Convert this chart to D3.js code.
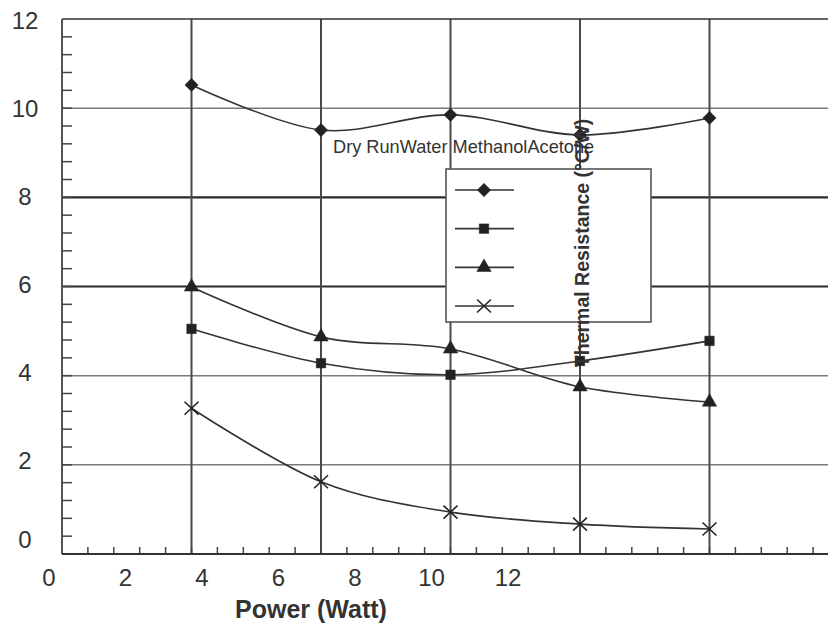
<!DOCTYPE html>
<html>
<head>
<meta charset="utf-8">
<script src="https://cdn.jsdelivr.net/npm/d3@7"></script>
<style>
  html, body { margin: 0; padding: 0; background: #fff; }
  svg { display: block; font-family: "Liberation Sans", Arial, sans-serif; }
</style>
</head>
<body>
<svg id="chart" width="828" height="625"></svg>
<script>
// Heating power (W) at each test point
const powers = [3.5, 7, 10.5, 14, 17.5];

// Thermal resistance (°C/W) per working fluid
const dryRun   = [10.52, 9.51, 9.85, 9.40, 9.78];
const water    = [5.05, 4.28, 4.02, 4.33, 4.78];
const methanol = [5.99, 4.87, 4.60, 3.75, 3.41];
const acetone  = [3.27, 1.62, 0.94, 0.67, 0.56];

const seriesNames = ["Dry Run", "Water ", "Methanol", "Acetone"];

// Axis tick labels
const xTickLabels = [0, 2, 4, 6, 8, 10, 12];
const yTickLabels = [0, 2, 4, 6, 8, 10, 12];

const xTitle = "Power (Watt)";
const yTitle = "Thermal Resistance (°C/W)";

(function () {
  const series = [
    { name: seriesNames[0], values: dryRun,   marker: "diamond" },
    { name: seriesNames[1], values: water,    marker: "square" },
    { name: seriesNames[2], values: methanol, marker: "triangle" },
    { name: seriesNames[3], values: acetone,  marker: "cross" }
  ];

  const svg = d3.select("#chart");
  const W = 828;
  const plotLeft = 62, plotTop = 19, plotBottom = 554;

  // Plot frame scales
  const x = d3.scaleLinear().domain([0, 21]).range([plotLeft, 839]);
  const y = d3.scaleLinear().domain([0, 12]).range([plotBottom, plotTop]);

  // Tick label placement scales
  const xLab = d3.scaleLinear().domain([0, 12]).range([49, 508]);
  const yLab = d3.scaleLinear().domain([0, 2, 12]).range([539, 460, 20]);

  const ink = "#333";

  // Horizontal gridlines
  const gridY = d3.range(2, 12, 2);
  const heavy = d => d === 6 || d === 8;
  svg.append("g").selectAll("line").data(gridY).join("line")
    .attr("x1", plotLeft).attr("x2", W)
    .attr("y1", d => y(d)).attr("y2", d => y(d))
    .attr("stroke", d => heavy(d) ? "#2a2a2a" : "#7a7a7a")
    .attr("stroke-width", d => heavy(d) ? 2.2 : 1.5);

  // Vertical gridlines through each power level
  svg.append("g").selectAll("line").data(powers).join("line")
    .attr("x1", d => x(d)).attr("x2", d => x(d))
    .attr("y1", plotTop).attr("y2", plotBottom)
    .attr("stroke", "#4a4a4a").attr("stroke-width", 2);

  // Top border
  svg.append("line").attr("x1", plotLeft).attr("x2", W)
    .attr("y1", plotTop).attr("y2", plotTop)
    .attr("stroke", ink).attr("stroke-width", 1.6);

  // Y axis line and inward minor ticks
  svg.append("line").attr("x1", plotLeft).attr("x2", plotLeft)
    .attr("y1", plotTop).attr("y2", plotBottom)
    .attr("stroke", "#555").attr("stroke-width", 2);
  svg.append("g").selectAll("line").data(d3.range(1, 30).map(i => i * 0.4)).join("line")
    .attr("x1", plotLeft).attr("x2", plotLeft + 10)
    .attr("y1", d => y(d)).attr("y2", d => y(d))
    .attr("stroke", "#444").attr("stroke-width", 1.5);

  // X axis line and upward minor ticks
  svg.append("g").selectAll("line").data(d3.range(1, 30).map(i => i * 0.7)).join("line")
    .attr("x1", d => x(d)).attr("x2", d => x(d))
    .attr("y1", plotBottom).attr("y2", plotBottom - 7)
    .attr("stroke", "#444").attr("stroke-width", 1.5);
  svg.append("line").attr("x1", plotLeft).attr("x2", W)
    .attr("y1", plotBottom).attr("y2", plotBottom)
    .attr("stroke", ink).attr("stroke-width", 2);

  // Tick labels
  svg.append("g").selectAll("text").data(xTickLabels).join("text")
    .attr("x", d => xLab(d)).attr("y", 586)
    .attr("text-anchor", "middle")
    .attr("font-size", 24).attr("fill", ink)
    .text(d => d);
  svg.append("g").selectAll("text").data(yTickLabels).join("text")
    .attr("x", 25).attr("y", d => yLab(d)).attr("dy", "0.36em")
    .attr("text-anchor", "middle")
    .attr("font-size", 24).attr("fill", ink)
    .text(d => d);

  // Marker shapes
  const markerPath = {
    diamond: d3.symbol(d3.symbolSquare, 88)(),
    square: d3.symbol(d3.symbolSquare, 90)(),
    triangle: d3.symbol(d3.symbolTriangle, 90)(),
    cross: "M-7,-6.5L7,6.5M-7,6.5L7,-6.5"
  };
  function drawMarker(sel, kind) {
    sel.append("path")
      .attr("d", markerPath[kind])
      .attr("transform", kind === "diamond" ? "rotate(45)" : null)
      .attr("fill", kind === "cross" ? "none" : "#222")
      .attr("stroke", "#222")
      .attr("stroke-width", kind === "cross" ? 1.6 : 0.5);
  }

  // Smoothed series lines
  const line = d3.line()
    .x((d, i) => x(powers[i]))
    .y(d => y(d))
    .curve(d3.curveCardinal.tension(0));

  const plot = svg.append("g");
  series.forEach(s => {
    plot.append("path")
      .attr("d", line(s.values))
      .attr("fill", "none")
      .attr("stroke", ink)
      .attr("stroke-width", 1.6);
    s.values.forEach((v, i) => {
      const g = plot.append("g").attr("transform", `translate(${x(powers[i])},${y(v)})`);
      drawMarker(g, s.marker);
    });
  });

  // Legend box
  const legend = { x0: 446, y0: 169, x1: 651, y1: 322 };
  svg.append("rect")
    .attr("x", legend.x0).attr("y", legend.y0)
    .attr("width", legend.x1 - legend.x0).attr("height", legend.y1 - legend.y0)
    .attr("fill", "#fff").attr("stroke", "#555").attr("stroke-width", 1.6);

  const legY = d3.scalePoint().domain(seriesNames).range([190, 306]);
  series.forEach(s => {
    const ly = legY(s.name);
    svg.append("line")
      .attr("x1", 455).attr("x2", 514)
      .attr("y1", ly).attr("y2", ly)
      .attr("stroke", ink).attr("stroke-width", 1.6);
    const g = svg.append("g").attr("transform", `translate(484,${ly})`);
    drawMarker(g, s.marker);
  });

  // Legend names run together on one line
  svg.append("text")
    .attr("x", 333).attr("y", 153)
    .attr("font-size", 18.2).attr("fill", ink)
    .style("white-space", "pre")
    .text(seriesNames.join(""));

  // Axis titles
  svg.append("text")
    .attr("x", 311).attr("y", 618)
    .attr("text-anchor", "middle")
    .attr("font-size", 25).attr("font-weight", "bold").attr("fill", ink)
    .text(xTitle);

  svg.append("text")
    .attr("transform", "translate(582,243) rotate(-90)")
    .attr("text-anchor", "middle").attr("dy", "0.36em")
    .attr("font-size", 19.5).attr("font-weight", "bold").attr("fill", ink)
    .text(yTitle);
})();
</script>
</body>
</html>
